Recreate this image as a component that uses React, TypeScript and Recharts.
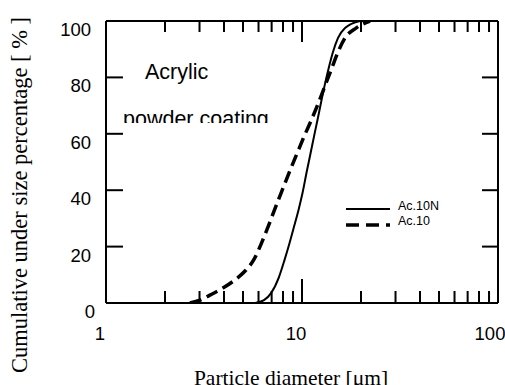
import React from 'react';
import { LineChart, Line, XAxis, YAxis, Customized } from 'recharts';

const ac10nDiameter = [5.76, 6.4, 6.95, 7.63, 8.14, 8.64, 9.1, 9.6, 10.06, 10.6, 11.05, 11.51, 12.0, 12.5, 13.03, 13.65, 14.39, 15.27, 16.58, 19.77];
const ac10nPercent = [0, 1, 3.5, 9.2, 15.2, 21.3, 27, 33, 39, 47, 53, 59, 65, 71, 77, 83, 89, 94, 97.5, 100];
const ac10Diameter = [2.68, 3.02, 3.39, 3.95, 4.55, 5.18, 5.66, 6.22, 6.71, 7.24, 7.82, 8.69, 9.43, 10.24, 11.18, 12.14, 13.1, 14.14, 15.27, 16.58, 18.86, 22.23];
const ac10Percent = [0, 1, 2.8, 5.3, 8.2, 11.7, 15.2, 21.3, 27, 33, 39, 47, 53, 59, 65, 71, 77, 83, 89, 94, 97.5, 100];

const xTicks = [1, 2, 3, 4, 5, 6, 7, 8, 9, 10, 20, 30, 40, 50, 60, 70, 80, 90, 100];
const xLabels = [1, 10, 100];
const yTicks = [0, 20, 40, 60, 80, 100];

const solidData = ac10nDiameter.map((d, i) => ({ d, v: ac10nPercent[i] }));
const dashedData = ac10Diameter.map((d, i) => ({ d, v: ac10Percent[i] }));

const SANS = '"Liberation Sans", Arial, Helvetica, sans-serif';
const SERIF = '"Liberation Serif", "Times New Roman", serif';

const CHART_W = 505;
const CHART_H = 385;
const MARGIN = { top: 20, right: 6, bottom: 81, left: 105 };
const PLOT_H = CHART_H - MARGIN.top - MARGIN.bottom - 2;

const BottomTick = (props: any) => {
  const { x, y, payload } = props;
  const v = Number(payload.value);
  const edge = Math.abs(v - 1) < 1e-6 || Math.abs(v - 100) < 1e-6;
  const major = Math.abs(v - 10) < 1e-6;
  const len = major ? 24 : 12;
  const topLen = major ? 21 : 11;
  const topY = y - PLOT_H;
  const label = Math.round(v);
  return (
    <g>
      {!edge && <rect x={x - 1} y={y - len} width={2} height={len} fill="#000" />}
      {!edge && <rect x={x - 1} y={topY} width={2} height={topLen} fill="#000" />}
      <line x1={x} x2={x} y1={y + 4} y2={y + 20} stroke="#fff" strokeWidth={2} />
      {xLabels.includes(label) && (
        <text x={label === 100 ? x - 8 : x - 6} y={y + 37} textAnchor="middle" fontFamily={SANS} fontSize={18.5} fill="#000">
          {label}
        </text>
      )}
    </g>
  );
};

const LeftTick = (props: any) => {
  const { x, y, payload } = props;
  const v = payload.value;
  const edge = v === 0 || v === 100;
  return (
    <g>
      {!edge && <line x1={x} x2={x + 17} y1={y} y2={y} stroke="#000" strokeWidth={2} />}
      <text x={v === 0 ? x - 11 : x - 15} y={y + 15} textAnchor="end" fontFamily={SANS} fontSize={18.5} fill="#000">
        {v}
      </text>
    </g>
  );
};

const RightTick = (props: any) => {
  const { x, y, payload } = props;
  const v = payload.value;
  const edge = v === 0 || v === 100;
  return <g>{!edge && <line x1={x} x2={x - 16} y1={y} y2={y} stroke="#000" strokeWidth={2} />}</g>;
};

const Annotations = () => (
  <g>
    <defs>
      <clipPath id="pcClip">
        <rect x={0} y={0} width={505} height={123} />
      </clipPath>
    </defs>
    <text x={145} y={79} fontFamily={SANS} fontSize={21.5} fill="#000">Acrylic</text>
    <text x={123} y={126} fontFamily={SANS} fontSize={21.5} fill="#000" clipPath="url(#pcClip)">powder coating</text>
    <line x1={346} x2={390} y1={209} y2={209} stroke="#000" strokeWidth={2} />
    <line x1={346} x2={390} y1={225} y2={225} stroke="#000" strokeWidth={3.5} strokeDasharray="13 7" />
    <text x={398} y={209.5} fontFamily={SANS} fontSize={12.5} fill="#000">Ac.10N</text>
    <text x={398} y={224.5} fontFamily={SANS} fontSize={12.5} fill="#000">Ac.10</text>
    <text x={291} y={385} textAnchor="middle" fontFamily={SERIF} fontSize={21.5} fill="#000">Particle diameter [μm]</text>
    <text x={27} y={195} textAnchor="middle" fontFamily={SERIF} fontSize={22.5} fill="#000" transform="rotate(-90, 27, 195)">
      Cumulative under size percentage [ % ]
    </text>
  </g>
);

const axisLine = { stroke: '#000', strokeWidth: 2 };

export default function App() {
  return (
    <div style={{ position: 'absolute', left: 0, top: 0, background: '#fff' }}>
      <LineChart width={CHART_W} height={CHART_H} margin={MARGIN}>
        <XAxis
          xAxisId="bottom"
          dataKey="d"
          type="number"
          scale="log"
          domain={[1, 100]}
          allowDataOverflow
          ticks={xTicks}
          interval={0}
          minTickGap={0}
          tickLine={false}
          tickSize={0}
          tickMargin={0}
          height={1}
          axisLine={axisLine}
          tick={<BottomTick />}
        />
        <XAxis
          xAxisId="top"
          orientation="top"
          dataKey="d"
          type="number"
          scale="log"
          domain={[1, 100]}
          allowDataOverflow
          ticks={xTicks}
          interval={0}
          minTickGap={0}
          tickLine={false}
          tick={false}
          height={1}
          axisLine={axisLine}
        />
        <YAxis
          yAxisId="left"
          type="number"
          domain={[0, 100]}
          allowDataOverflow
          ticks={yTicks}
          interval={0}
          tickLine={false}
          tickSize={0}
          tickMargin={0}
          width={1}
          axisLine={axisLine}
          tick={<LeftTick />}
        />
        <YAxis
          yAxisId="right"
          orientation="right"
          type="number"
          domain={[0, 100]}
          allowDataOverflow
          ticks={yTicks}
          interval={0}
          tickLine={false}
          tickSize={0}
          tickMargin={0}
          width={1}
          axisLine={axisLine}
          tick={<RightTick />}
        />
        <Line
          xAxisId="bottom"
          yAxisId="left"
          data={solidData}
          dataKey="v"
          type="monotone"
          stroke="#000"
          strokeWidth={2}
          dot={false}
          isAnimationActive={false}
        />
        <Line
          xAxisId="bottom"
          yAxisId="left"
          data={dashedData}
          dataKey="v"
          type="monotone"
          stroke="#000"
          strokeWidth={3.5}
          strokeDasharray="12 6"
          dot={false}
          isAnimationActive={false}
        />
        <Customized component={Annotations} />
      </LineChart>
    </div>
  );
}
